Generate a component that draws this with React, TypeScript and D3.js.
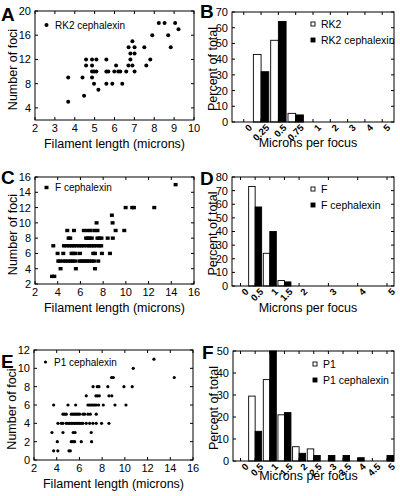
import React from "react";
import * as d3 from "d3";

const FONT = "'Liberation Sans', Arial, Helvetica, sans-serif";

// ---------- Panel A: RK2 cephalexin ----------
const aLength = [8.23, 8.52, 9.05, 9.22, 7.9, 8.7, 6.9, 6.71, 7.01, 7.5, 8.83, 6.8, 7.01,
  4.57, 4.87, 5.09, 5.59, 6.8, 7.8, 4.57, 4.87, 6.08, 6.7, 6.9, 7.6,
  4.87, 4.97, 5.09, 5.59, 5.69, 5.99, 6.19, 6.29, 6.59, 7.01,
  3.67, 4.39, 4.87, 4.97, 5.59, 5.89, 6.39, 5.19, 4.47, 3.67];
const aFoci = [18, 18, 18, 17, 16, 16, 15, 14, 14, 14, 14, 13, 13,
  12, 12, 12, 12, 12, 12, 11, 11, 11, 11, 11, 11,
  10, 10, 10, 10, 10, 10, 10, 10, 10, 10,
  9, 9, 9, 8, 8, 8, 8, 7, 6, 5];
const aXTicks = [2, 3, 4, 5, 6, 7, 8, 9, 10];
const aYTicks = [4, 8, 12, 16, 20];

// ---------- Panel C: F cephalexin ----------
const cLength = [14.38,
  9.98, 10.56, 10.71, 12.5,
  8.77,
  7.42, 8.83,
  4.84, 5.43, 6.3, 6.6, 6.9, 7.25, 7.5, 9.1, 9.86,
  4.96, 5.1, 6.5, 6.65, 6.8, 7.0, 7.5, 7.65, 7.85, 8.4, 8.85,
  3.61, 4.55, 4.78, 5.02, 5.22, 5.43, 5.66, 5.9, 6.1, 6.31, 6.6, 6.78, 6.99, 7.19, 7.42, 7.66, 7.83,
  3.99, 4.49, 5.22, 5.37, 5.58, 5.96, 7.13, 7.28, 7.89, 8.6,
  4.05, 4.2, 4.49, 4.7, 4.93, 5.14, 5.31, 5.52, 5.9, 6.08, 6.25, 6.43, 6.6, 6.78, 6.99, 7.19, 7.57,
  4.25, 5.6, 7.28,
  3.5, 3.7];
const cFoci = [15,
  12, 12, 12, 12,
  11,
  10, 10,
  9, 9, 9, 9, 9, 9, 9, 9, 9,
  8, 8, 8, 8, 8, 8, 8, 8, 8, 8, 8,
  7, 7, 7, 7, 7, 7, 7, 7, 7, 7, 7, 7, 7, 7, 7, 7, 7,
  6, 6, 6, 6, 6, 6, 6, 6, 6, 6,
  5, 5, 5, 5, 5, 5, 5, 5, 5, 5, 5, 5, 5, 5, 5, 5, 5,
  4, 4, 4,
  3, 3];
const cXTicks = [2, 4, 6, 8, 10, 12, 14, 16];
const cYTicks = [2, 4, 6, 8, 10, 12, 14, 16];

// ---------- Panel E: P1 cephalexin ----------
const eLength = [12.56, 10.74, 8.83, 8.98, 14.35,
  7.2, 7.57, 7.72, 8.5, 9.92, 10.65,
  6.6, 7.45, 7.6, 7.75, 8.6, 8.85,
  3.73, 4.99, 5.67, 6.75, 6.9, 7.04, 7.19, 7.34, 7.48, 7.69, 8.1, 9.13, 10.1,
  4.55, 4.7, 4.84, 5.28, 5.43, 5.58, 5.72, 5.87, 6.02, 6.31, 6.46, 6.75, 6.96, 7.48,
  4.11, 4.4, 4.55, 4.84, 4.99, 5.14, 5.28, 5.43, 5.58, 5.72, 5.87, 6.02, 6.16, 6.31, 6.6, 6.9, 7.19, 7.48, 7.95, 8.6,
  3.58, 4.55, 5.45, 5.62, 7.04,
  4.05, 5.28, 5.43, 5.58, 6.16, 7.07,
  3.73, 4.1, 5.08, 5.2];
const eFoci = [11, 10, 9, 9, 9,
  8, 8, 8, 8, 8, 8,
  7, 7, 7, 7, 7, 7,
  6, 6, 6, 6, 6, 6, 6, 6, 6, 6, 6, 6, 6,
  5, 5, 5, 5, 5, 5, 5, 5, 5, 5, 5, 5, 5, 5,
  4, 4, 4, 4, 4, 4, 4, 4, 4, 4, 4, 4, 4, 4, 4, 4, 4, 4, 4, 4,
  3, 3, 3, 3, 3,
  2, 2, 2, 2, 2, 2,
  1, 1, 1, 1];
const eXTicks = [2, 4, 6, 8, 10, 12, 14, 16];
const eYTicks = [0, 2, 4, 6, 8, 10, 12];

// ---------- Panel B: RK2 histogram ----------
const bCategories = ["0", "0.25", "0.5", "0.75", "1", "2", "3", "4", "5"];
const bRK2 = [0, 43, 52, 5.5, 0, 0, 0, 0, 0];
const bRK2Ceph = [0, 32, 64, 4.5, 0, 0, 0, 0, 0];
const bYTicks = [0, 10, 20, 30, 40, 50, 60, 70];

// ---------- Panel D: F histogram ----------
const dBins = [0, 0.5, 1, 1.5, 2, 3, 4, 5];
const dF = [0, 73, 24, 4, 0, 0, 0, 0];
const dFCeph = [0, 58, 40, 3, 0, 0, 0, 0];
const dYTicks = [0, 10, 20, 30, 40, 50, 60, 70, 80];

// ---------- Panel F: P1 histogram ----------
const fBins = [0, 0.5, 1, 1.5, 2, 2.5, 3, 3.5, 4, 4.5, 5];
const fP1 = [0, 29.5, 37, 21, 6.5, 5.5, 0, 0, 0, 0, 0];
const fP1Ceph = [0, 13.5, 50, 22, 3.5, 2.5, 2.5, 2.5, 1.5, 0, 2.5];
const fYTicks = [0, 10, 20, 30, 40, 50];

type Box = { left: number; right: number; top: number; bottom: number };

function Letter({ t, x, y }: { t: string; x: number; y: number }) {
  return (
    <text x={x} y={y} fontSize={19} fontWeight="bold" fontFamily={FONT}>{t}</text>
  );
}

function YTitle({ t, x, y }: { t: string; x: number; y: number }) {
  return (
    <text transform={`translate(${x},${y}) rotate(-90)`} textAnchor="middle" dy="0.35em" fontSize={12.5} fontFamily={FONT}>{t}</text>
  );
}

function YAxis({ box, y, ticks }: { box: Box; y: d3.ScaleLinear<number, number>; ticks: number[] }) {
  return (
    <g>
      {ticks.map((t) => (
        <g key={"y" + t}>
          <line x1={box.left} x2={box.left + 3} y1={y(t)} y2={y(t)} stroke="#000" />
          <line x1={box.right} x2={box.right - 3} y1={y(t)} y2={y(t)} stroke="#000" />
          <text x={box.left - 4} y={y(t)} dy="0.36em" textAnchor="end" fontSize={11} fontFamily={FONT}>{t}</text>
        </g>
      ))}
    </g>
  );
}

type ScatterProps = {
  letter: string; lx: number; ly: number;
  box: Box;
  xDomain: [number, number]; yDomain: [number, number];
  xTicks: number[]; yTicks: number[];
  xs: number[]; ys: number[];
  marker: "dot" | "square"; r: number;
  legend: string; legY: number;
};

function Scatter(p: ScatterProps) {
  const { box } = p;
  const x = d3.scaleLinear().domain(p.xDomain).range([box.left, box.right]);
  const y = d3.scaleLinear().domain(p.yDomain).range([box.bottom, box.top]);
  const mark = (cx: number, cy: number, key: string) =>
    p.marker === "dot" ? (
      <circle key={key} cx={cx} cy={cy} r={p.r} fill="#000" />
    ) : (
      <rect key={key} x={cx - 2} y={cy - 1.7} width={4} height={3.4} fill="#000" />
    );
  return (
    <g>
      <Letter t={p.letter} x={p.lx} y={p.ly} />
      <rect x={box.left} y={box.top} width={box.right - box.left} height={box.bottom - box.top} fill="none" stroke="#000" />
      {p.xTicks.map((t) => (
        <g key={"x" + t}>
          <line x1={x(t)} x2={x(t)} y1={box.bottom} y2={box.bottom - 3} stroke="#000" />
          <line x1={x(t)} x2={x(t)} y1={box.top} y2={box.top + 3} stroke="#000" />
          <text x={x(t)} y={box.bottom + 12} textAnchor="middle" fontSize={11} fontFamily={FONT}>{t}</text>
        </g>
      ))}
      <YAxis box={box} y={y} ticks={p.yTicks} />
      {p.xs.map((v, i) => mark(x(v), y(p.ys[i]), "p" + i))}
      {mark(box.left + 11.5, p.legY, "leg")}
      <text x={box.left + 20} y={p.legY} dy="0.36em" fontSize={10} fontFamily={FONT}>{p.legend}</text>
      <text x={(box.left + box.right) / 2} y={box.bottom + 28} textAnchor="middle" fontSize={12.5} fontFamily={FONT}>Filament length (microns)</text>
      <YTitle t="Number of foci" x={box.left - 22} y={(box.top + box.bottom) / 2 + 4} />
    </g>
  );
}

type BarsProps = {
  letter: string; lx: number; ly: number;
  box: Box;
  yMax: number; yTicks: number[];
  pos: number[]; labels: string[];
  s1: number[]; s2: number[]; barW: number;
  leg1: string; leg2: string; legX: number; legY: number;
  titleY: number;
};

function Bars(p: BarsProps) {
  const { box } = p;
  const y = d3.scaleLinear().domain([0, p.yMax]).range([box.bottom, box.top]);
  return (
    <g>
      <Letter t={p.letter} x={p.lx} y={p.ly} />
      {p.pos.map((px, i) => (
        <g key={"b" + i}>
          {p.s1[i] > 0 && (
            <rect x={px - p.barW} y={y(p.s1[i])} width={p.barW} height={box.bottom - y(p.s1[i])} fill="#fff" stroke="#000" strokeWidth={0.9} />
          )}
          {p.s2[i] > 0 && (
            <rect x={px} y={y(p.s2[i])} width={p.barW} height={box.bottom - y(p.s2[i])} fill="#000" stroke="#000" strokeWidth={0.9} />
          )}
        </g>
      ))}
      <rect x={box.left} y={box.top} width={box.right - box.left} height={box.bottom - box.top} fill="none" stroke="#000" />
      {p.pos.map((px, i) => (
        <g key={"xl" + i}>
          <line x1={px} x2={px} y1={box.bottom} y2={box.bottom - 3} stroke="#000" />
          <line x1={px} x2={px} y1={box.top} y2={box.top + 3} stroke="#000" />
          <text transform={`translate(${px + 6.5},${box.bottom + 4}) rotate(-45)`} textAnchor="end" dy="0.35em" fontSize={9.5} fontWeight="bold" fontFamily={FONT}>{p.labels[i]}</text>
        </g>
      ))}
      <YAxis box={box} y={y} ticks={p.yTicks} />
      <rect x={p.legX - 2} y={p.legY - 2} width={4} height={4} fill="#fff" stroke="#000" strokeWidth={0.9} />
      <text x={p.legX + 8} y={p.legY} dy="0.36em" fontSize={10.5} fontFamily={FONT}>{p.leg1}</text>
      <rect x={p.legX - 2} y={p.legY + 16 - 2} width={4} height={4} fill="#000" stroke="#000" strokeWidth={0.9} />
      <text x={p.legX + 8} y={p.legY + 16} dy="0.36em" fontSize={10.5} fontFamily={FONT}>{p.leg2}</text>
      <text x={(box.left + box.right) / 2 - 5} y={p.titleY} textAnchor="middle" fontSize={12.5} fontFamily={FONT}>Microns per focus</text>
      <YTitle t="Percent of total" x={box.left - 19} y={(box.top + box.bottom) / 2 + 2} />
    </g>
  );
}

export default function App() {
  const boxA: Box = { left: 35, right: 194, top: 11, bottom: 120 };
  const boxC: Box = { left: 35, right: 194, top: 177, bottom: 284 };
  const boxE: Box = { left: 34, right: 193, top: 350, bottom: 460 };
  const boxB: Box = { left: 232, right: 394, top: 12, bottom: 122 };
  const boxD: Box = { left: 232, right: 394, top: 177, bottom: 286 };
  const boxF: Box = { left: 233, right: 394, top: 351, bottom: 461 };

  const bx = d3.scalePoint<string>().domain(bCategories).range([boxB.left, boxB.right]).padding(0.68);
  const lin = d3.scaleLinear().domain([0, 5]).range([240.5, 387]);

  return (
    <svg width={400} height={496} style={{ position: "absolute", left: 0, top: 0, background: "#fff" }} fontFamily={FONT}>
      <rect width={400} height={496} fill="#fff" />
      <Scatter letter="A" lx={1} ly={21} box={boxA} xDomain={[2, 10]} yDomain={[2, 20]} xTicks={aXTicks} yTicks={aYTicks}
        xs={aLength} ys={aFoci} marker="dot" r={2} legend="RK2 cephalexin" legY={25} />
      <Scatter letter="C" lx={1} ly={184} box={boxC} xDomain={[2, 16]} yDomain={[2, 16]} xTicks={cXTicks} yTicks={cYTicks}
        xs={cLength} ys={cFoci} marker="square" r={2} legend="F cephalexin" legY={187.5} />
      <Scatter letter="E" lx={1} ly={368} box={boxE} xDomain={[2, 16]} yDomain={[0, 12]} xTicks={eXTicks} yTicks={eYTicks}
        xs={eLength} ys={eFoci} marker="dot" r={1.6} legend="P1 cephalexin" legY={362} />
      <Bars letter="B" lx={200} ly={18} box={boxB} yMax={70} yTicks={bYTicks}
        pos={bCategories.map((c) => bx(c) as number)} labels={bCategories}
        s1={bRK2} s2={bRK2Ceph} barW={7.7} leg1="RK2" leg2="RK2 cephalexin" legX={313} legY={24} titleY={147} />
      <Bars letter="D" lx={200} ly={185} box={boxD} yMax={80} yTicks={dYTicks}
        pos={dBins.map((v) => lin(v))} labels={dBins.map(String)}
        s1={dF} s2={dFCeph} barW={6.5} leg1="F" leg2="F cephalexin" legX={313} legY={189} titleY={312} />
      <Bars letter="F" lx={202} ly={359} box={boxF} yMax={50} yTicks={fYTicks}
        pos={fBins.map((v) => lin(v))} labels={fBins.map(String)}
        s1={fP1} s2={fP1Ceph} barW={6.5} leg1="P1" leg2="P1 cephalexin" legX={315} legY={364} titleY={480} />
    </svg>
  );
}
